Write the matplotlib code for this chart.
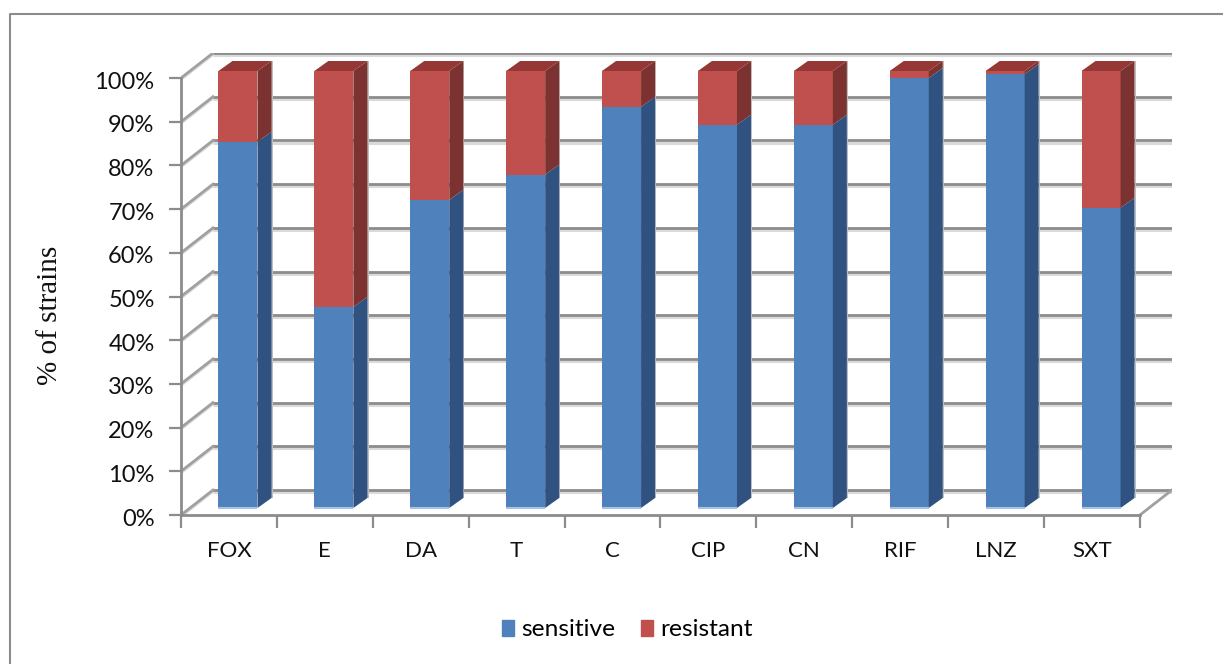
import matplotlib
matplotlib.use("Agg")
import matplotlib.pyplot as plt
from matplotlib.lines import Line2D
from matplotlib.patches import Patch
from matplotlib.transforms import ScaledTranslation

# values (% of strains)
drugs = ['FOX', 'E', 'DA', 'T', 'C', 'CIP', 'CN', 'RIF', 'LNZ', 'SXT']
sensitive = [83.8, 46.0, 70.5, 76.3, 91.8, 87.7, 87.7, 98.4, 99.3, 68.7]
resistant = [16.2, 54.0, 29.5, 23.7, 8.2, 12.3, 12.3, 1.6, 0.7, 31.3]
pct_ticks = list(range(0, 101, 10))

W, H = 1223, 664
BLUE, BLUE_SIDE, BLUE_EDGE = '#4F81BD', '#2F5280', '#A9C2E4'
RED, RED_SIDE, RED_TOP = '#C0504D', '#7B3230', '#953735'
GRID, GRID_SOFT = '#8C8C8C', '#DADADA'

plt.rcParams['font.family'] = ['Lato', 'DejaVu Sans']

fig = plt.figure(figsize=(W / 100, H / 100), dpi=100)

# page frame, runs off the right and bottom of the picture
fig.add_artist(Line2D([10.5 / W, 10.5 / W, 1], [0, 1 - 13.5 / H, 1 - 13.5 / H],
                      color='#8C8C8C', lw=1.5, transform=fig.transFigure))

# axes box = front axis corner to back wall corner
ax = fig.add_axes([181 / W, 1 - 515 / H, (1172 - 181) / W, (515 - 53) / H])
px_x = 95.8
px_y = 4.37
wall_dx, wall_dy = 32 / px_x, 25 / px_y     # back wall offset
front_dx, front_dy = 9 / px_x, 7 / px_y     # bar front plane offset
bar_dx, bar_dy = 14 / px_x, 10 / px_y       # bar depth
bar_w = 39 / px_x
n = len(drugs)
ax.set_xlim(0, n + wall_dx)
ax.set_ylim(0, 100 + wall_dy)
ax.patch.set_visible(False)
for s in ax.spines.values():
    s.set_visible(False)

# back wall grid and slanted side wall
for v in pct_ticks:
    ax.plot([wall_dx, n + wall_dx], [v + wall_dy - 0.5] * 2, color=GRID_SOFT, lw=2.2, zorder=1,
            solid_capstyle='butt')
    ax.plot([wall_dx, n + wall_dx], [v + wall_dy] * 2, color=GRID, lw=2.0, zorder=1.1,
            solid_capstyle='butt')
    ax.plot([0, wall_dx], [v - 0.3, v + wall_dy - 0.3], color=GRID_SOFT, lw=2.2, zorder=1)
    ax.plot([0, wall_dx], [v, v + wall_dy], color='#A0A0A0', lw=2.0, zorder=1.1)

# floor edge on the right, front axes
ax.plot([n, n + wall_dx], [0, wall_dy], color='#A0A0A0', lw=2.0, zorder=1.1)
ax.plot([0, n], [0, 0], color=GRID, lw=2.0, zorder=1.2, clip_on=False)
ax.plot([0, 0], [0, 100], color=GRID, lw=2.0, zorder=1.2, clip_on=False)

# bars
xs = [i + 0.5 + front_dx for i in range(n)]
ax.bar(xs, sensitive, bar_w, bottom=front_dy, color=BLUE, zorder=3)
ax.bar(xs, resistant, bar_w, bottom=[front_dy + v for v in sensitive], color=RED, zorder=3)
for x, a, b in zip(xs, sensitive, resistant):
    l, r = x - bar_w / 2, x + bar_w / 2
    y0 = front_dy
    y1 = y0 + a
    y2 = y1 + b
    # soft shadow to the right of the side faces
    ax.fill([r + bar_dx, r + bar_dx + 0.012, r + bar_dx + 0.012, r + bar_dx],
            [y0 + bar_dy, y0 + bar_dy, y2 + bar_dy, y2 + bar_dy], color='#BDBDBD', lw=0, zorder=2)
    ax.fill([r, r + bar_dx, r + bar_dx, r], [y0, y0 + bar_dy, y1 + bar_dy, y1],
            color=BLUE_SIDE, lw=0, zorder=3)
    ax.fill([r, r + bar_dx, r + bar_dx, r], [y1, y1 + bar_dy, y2 + bar_dy, y2],
            color=RED_SIDE, lw=0, zorder=3)
    ax.fill([l, l + bar_dx, r + bar_dx, r], [y2, y2 + bar_dy, y2 + bar_dy, y2],
            color=RED_TOP, lw=0, zorder=3)
    ax.plot([l, r], [y0, y0], color=BLUE_EDGE, lw=1.5, zorder=3.5, solid_capstyle='butt')

# ticks
ax.set_yticks(pct_ticks)
ax.set_yticklabels([f'{v}%' for v in pct_ticks], fontsize=17, color='#111111')
ax.tick_params(axis='y', length=9, width=1.6, color=GRID, pad=10)
down = ScaledTranslation(0, -1.5 / 72, fig.dpi_scale_trans)
for lab in ax.get_yticklabels():
    lab.set_transform(lab.get_transform() + down)
ax.set_xticks(range(n + 1))
ax.set_xticklabels([])
ax.tick_params(axis='x', length=9, width=1.6, color=GRID)
ax.set_xticks([i + 0.5 for i in range(n)], minor=True)
ax.set_xticklabels(drugs, minor=True, fontsize=16, color='#111111')
ax.tick_params(axis='x', which='minor', length=0, pad=19)

fig.text(50 / W, 1 - 315 / H, '% of strains', rotation=90, ha='center', va='center',
         family=['Liberation Serif'], fontsize=21, color='#111111')

handles = [Patch(color=BLUE, label='sensitive'), Patch(color=RED, label='resistant')]
fig.legend(handles=handles, loc='center', bbox_to_anchor=(627.5 / W, 1 - 630 / H), ncol=2,
           frameon=False, fontsize=17.6, handlelength=0.5, handleheight=0.62,
           handletextpad=0.3, columnspacing=1.05)

fig.savefig('out.png', dpi=100)
